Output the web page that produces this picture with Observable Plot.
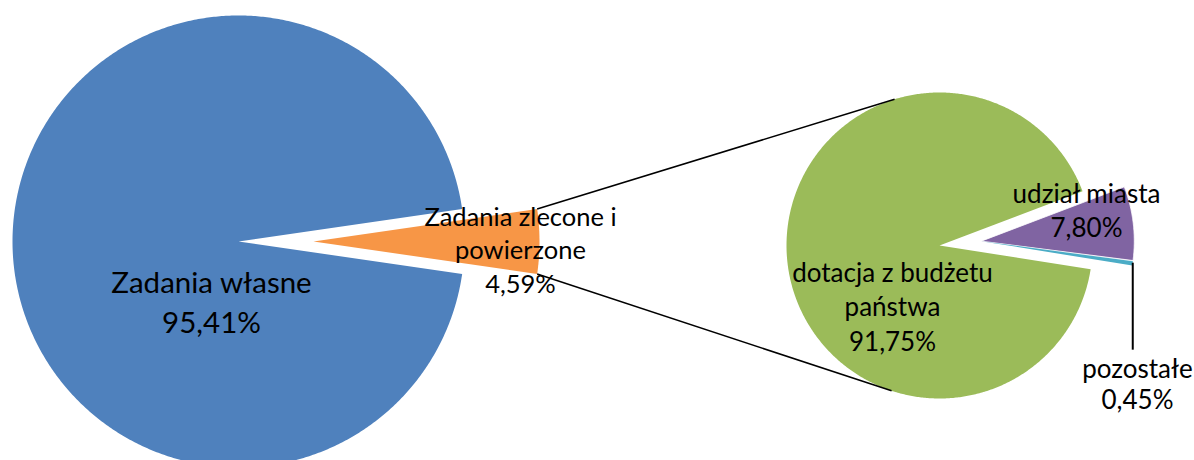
<!DOCTYPE html>
<html><head><meta charset="utf-8">
<script src="https://cdn.jsdelivr.net/npm/d3@7"></script>
<script src="https://cdn.jsdelivr.net/npm/@observablehq/plot@0.6"></script>
<style>html,body{margin:0;padding:0;background:#fff}</style>
</head><body><div id="chart"></div>
<script>
// ---- data ----
const mainCategories = ["Zadania własne", "Zadania zlecone i\npowierzone"];
const mainValues = [95.41, 4.59];
const mainLabels = ["95,41%", "4,59%"];
const subCategories = ["dotacja z budżetu\npaństwa", "udział miasta", "pozostałe"];
const subValues = [91.75, 7.80, 0.45];
const subLabels = ["91,75%", "7,80%", "0,45%"];
const mainColors = ["#4F81BD", "#F79646"];
const subColors = ["#9BBB59", "#8064A2", "#4BACC6"];

// ---- layout ----
const W = 1194, H = 460;
const FONT = "Lato, 'Open Sans', sans-serif";
const LP = {cx: 238, cy: 241, r: 226, explode: 75};
const RP = {cx: 939, cy: 245, r: 153, explode: 42, start: 20.8};
const labelPos = {
  main: [{x: 211, y: 283, fs: 29.5, lh: 40}, {x: 520, y: 217, fs: 25.5, lh: 33.5}],
  sub: [{x: 892, y: 273, fs: 26, lh: 34.5}, {x: 1086, y: 194, fs: 26, lh: 34}, {x: 1137, y: 369, fs: 26, lh: 31.5}]
};
const leaderLen = 87;

const rad = d => d * Math.PI / 180;
function wedge(cx, cy, r, a0, a1) {
  const pts = [{x: cx, y: cy}];
  const n = Math.max(2, Math.ceil(Math.abs(a1 - a0) / 0.5));
  for (let i = 0; i <= n; i++) {
    const a = rad(a0 + (a1 - a0) * i / n);
    pts.push({x: cx + r * Math.cos(a), y: cy - r * Math.sin(a)});
  }
  pts.push({x: cx, y: cy});
  return pts;
}

// main pie: second slice centered on east, exploded
const mainSpan = mainValues.map(v => v / 100 * 360);
const oA0 = -mainSpan[1] / 2, oA1 = mainSpan[1] / 2;
const tip = {x: LP.cx + LP.explode, y: LP.cy};
const mainSlices = [
  {pts: wedge(LP.cx, LP.cy, LP.r, oA1, oA1 + mainSpan[0]), color: mainColors[0]},
  {pts: wedge(tip.x, tip.y, LP.r, oA0, oA1), color: mainColors[1]}
];

// sub pie
const subSpan = subValues.map(v => v / 100 * 360);
const pA1 = RP.start, pA0 = pA1 - subSpan[1];
const tA1 = pA0, tA0 = tA1 - subSpan[2];
const exMid = rad((pA1 + tA0) / 2);
const ex = {x: RP.cx + RP.explode * Math.cos(exMid), y: RP.cy - RP.explode * Math.sin(exMid)};
const subSlices = [
  {pts: wedge(RP.cx, RP.cy, RP.r, pA1, tA0 + 360), color: subColors[0], stroke: "none"},
  {pts: wedge(ex.x, ex.y, RP.r, pA0, pA1), color: subColors[1], stroke: "white"},
  {pts: wedge(ex.x, ex.y, RP.r, tA0 - 0.3, tA1 - 0.3), color: subColors[2], stroke: "none"}
];

// tangent connectors from orange corners to sub pie
function corner(a) { return {x: tip.x + LP.r * Math.cos(rad(a)), y: tip.y - LP.r * Math.sin(rad(a))}; }
function tangent(P, upper) {
  const dx = P.x - RP.cx, dy = P.y - RP.cy, d = Math.hypot(dx, dy);
  const base = Math.atan2(dy, dx), al = Math.acos(RP.r / d);
  const c1 = base + al, c2 = base - al;
  const t1 = {x: RP.cx + RP.r * Math.cos(c1), y: RP.cy + RP.r * Math.sin(c1)};
  const t2 = {x: RP.cx + RP.r * Math.cos(c2), y: RP.cy + RP.r * Math.sin(c2)};
  return upper ? (t1.y < t2.y ? t1 : t2) : (t1.y > t2.y ? t1 : t2);
}
const cTop = corner(oA1), cBot = corner(oA0);
const tTop = tangent(cTop, true), tBot = tangent(cBot, false);
const connectors = [
  {x1: cTop.x, y1: cTop.y, x2: tTop.x, y2: tTop.y},
  {x1: cBot.x, y1: cBot.y, x2: tBot.x, y2: tBot.y}
];
const tMid = rad((tA0 + tA1) / 2);
const lead = {x: ex.x + RP.r * Math.cos(tMid), y: ex.y - RP.r * Math.sin(tMid)};
const leader = [{x1: lead.x, y1: lead.y, x2: lead.x, y2: lead.y + leaderLen}];

// labels
const labelRows = [];
function addLabel(cat, val, p) {
  const lines = cat.split("\n").concat([val]);
  lines.forEach((t, i) => labelRows.push({t, x: p.x, y: p.y + i * p.lh, fs: p.fs}));
}
mainCategories.forEach((c, i) => addLabel(c, mainLabels[i], labelPos.main[i]));
subCategories.forEach((c, i) => addLabel(c, subLabels[i], labelPos.sub[i]));

const marks = [];
mainSlices.forEach(s => marks.push(Plot.line(s.pts, {x: "x", y: "y", fill: s.color, stroke: "none"})));
subSlices.forEach(s => marks.push(Plot.line(s.pts, {x: "x", y: "y", fill: s.color, stroke: s.stroke, strokeWidth: 0.8})));
marks.push(Plot.link(connectors, {x1: "x1", y1: "y1", x2: "x2", y2: "y2", stroke: "black", strokeWidth: 1.5}));
marks.push(Plot.link(leader, {x1: "x1", y1: "y1", x2: "x2", y2: "y2", stroke: "black", strokeWidth: 2}));
[...new Set(labelRows.map(d => d.fs))].forEach(fs => marks.push(Plot.text(labelRows.filter(d => d.fs === fs), {
  x: "x", y: "y", text: "t", fontSize: fs, fill: "black", textAnchor: "middle", lineAnchor: "middle"
})));

const chart = Plot.plot({
  width: W, height: H, margin: 0,
  x: {domain: [0, W], range: [0, W], axis: null},
  y: {domain: [0, H], range: [0, H], axis: null},
  style: {fontFamily: FONT, background: "white", overflow: "hidden"},
  marks
});
document.getElementById("chart").append(chart);
</script>
</body></html>
